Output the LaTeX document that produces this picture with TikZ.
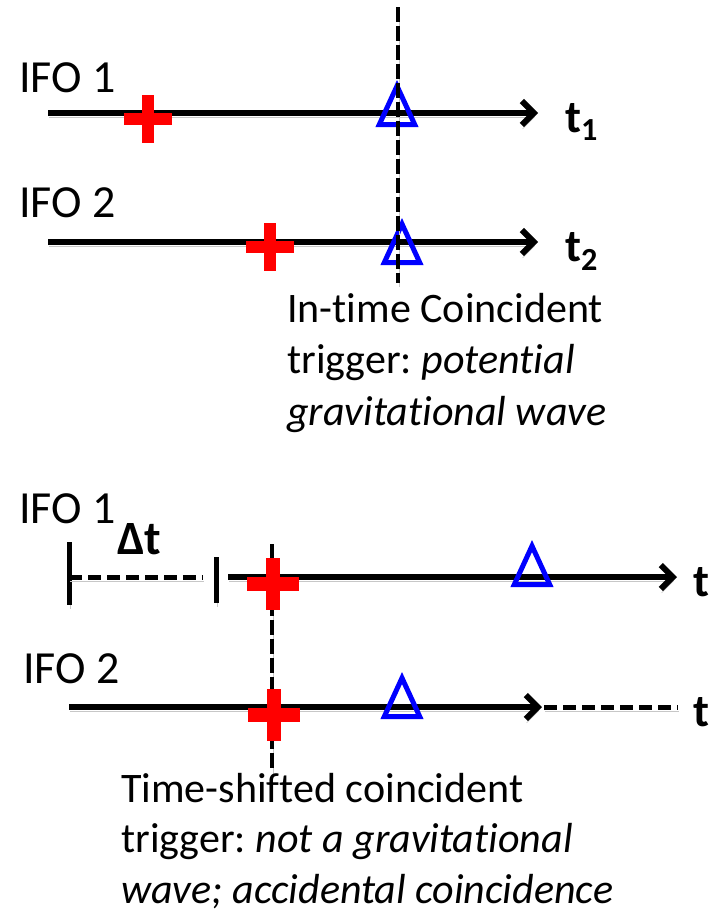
\documentclass[tikz,border=0pt]{standalone}
\usepackage{fontspec}
\setmainfont{Carlito}[Ligatures=NoCommon]
\usetikzlibrary{arrows.meta}
\frenchspacing

\begin{document}
\begin{tikzpicture}[
    every node/.style={inner sep=0pt},
    lbl/.style={anchor=base west, font=\fontsize{32.7}{39}\selectfont},
    tlbl/.style={anchor=base west, font=\fontsize{32.7}{39}\selectfont\bfseries},
    note/.style={anchor=base west, align=left, font=\fontsize{29.9}{36.3}\selectfont},
    lowshade/.style={preaction={draw=black!22, transform canvas={shift={(0.02,-0.1)}}}},
    axis/.style={line width=0.15cm, -{Straight Barb[length=0.3cm, width=0.6cm]}, lowshade},
    gap/.style={line width=0.125cm, dash pattern=on 0.325cm off 0.15cm, lowshade},
    coinc/.style={line width=0.1cm, dash pattern=on 0.375cm off 0.1cm, lowshade},
    stop/.style={line width=0.125cm, lowshade},
    crossmark/.pic={
        \fill[red] (-0.6,-0.15) rectangle (0.6,0.15);
        \fill[red] (-0.15,-0.6) rectangle (0.15,0.6);
    },
    trimark/.pic={
        \draw[blue, line width=0.125cm, line join=miter]
            (-0.442,0.0625) -- (0,1.025) -- (0.442,0.0625) -- cycle;
    }
]
\useasboundingbox (0,0) rectangle (17.75,-22.8);

% in-time coincidence
\node[lbl] (ifoa) at (0.475,-2.3)  {IFO 1};
\node[lbl] (ifob) at (0.475,-5.425) {IFO 2};
\coordinate (a1)  at (1.2,-2.825);
\coordinate (a1e) at (13.45,-2.825);
\coordinate (a2)  at (1.2,-6.05);
\coordinate (a2e) at (13.45,-6.05);
\node[tlbl] (ta) at (14.125,-3.3)  {t\textsubscript{1}};
\node[tlbl] (tb) at (14.125,-6.525) {t\textsubscript{2}};
\draw[axis] (a1) -- (a1e);
\draw[axis] (a2) -- (a2e);
\pic (ca) at (3.7,-2.975) {crossmark};
\pic (cb) at (6.75,-6.175) {crossmark};
\pic (ga) at (9.925,-3.175) {trimark};
\pic (gb) at (10.05,-6.625) {trimark};
\coordinate (v1)  at (9.95,-0.175);
\coordinate (v1e) at (9.95,-7.075);
\draw[coinc] (v1) -- (v1e);
\node[note] (notea) at (7.175,-10.625)
    {In-time Coincident\\trigger: \textit{potential}\\\textit{gravitational wave}};

% time-shifted coincidence
\node[lbl] (ifoc) at (0.475,-13.075) {IFO 1};
\node[lbl] (ifod) at (0.575,-17.075) {IFO 2};
\node[tlbl, font=\fontsize{34}{40}\selectfont\bfseries] (dt) at (2.925,-13.85) {Δt};
\coordinate (k1)  at (1.725,-13.55);
\coordinate (k1e) at (1.725,-15.125);
\coordinate (k2)  at (5.4,-13.925);
\coordinate (k2e) at (5.4,-15.075);
\draw[stop] (k1) -- (k1e);
\draw[stop] (k2) -- (k2e);
\coordinate (s1)  at (1.725,-14.425);
\coordinate (s1e) at (5.075,-14.425);
\draw[gap] (s1) -- (s1e);
\coordinate (b1)  at (5.7,-14.425);
\coordinate (b1e) at (16.925,-14.425);
\draw[axis] (b1) -- (b1e);
\coordinate (b2)  at (1.725,-17.675);
\coordinate (b2e) at (13.55,-17.675);
\draw[axis] (b2) -- (b2e);
\coordinate (s2)  at (13.6,-17.675);
\coordinate (s2e) at (16.95,-17.675);
\draw[gap] (s2) -- (s2e);
\node[tlbl] (tc) at (17.325,-14.9)  {t};
\node[tlbl] (td) at (17.325,-18.15) {t};
\pic (gc) at (13.3,-14.675) {trimark};
\pic (gd) at (10.05,-17.975) {trimark};
\coordinate (v2)  at (6.8,-13.6);
\coordinate (v2e) at (6.8,-19.3);
\draw[coinc] (v2) -- (v2e);
\pic[scale=1.1] (cc) at (6.825,-14.6) {crossmark};
\pic[scale=1.1] (cd) at (6.85,-17.875) {crossmark};
\node[note, font=\fontsize{29.9}{35.6}\selectfont] (noteb) at (3.025,-22.575)
    {Time-shifted coincident\\trigger: \textit{not a gravitational}\\\textit{wave; accidental coincidence}};
\end{tikzpicture}
\end{document}
